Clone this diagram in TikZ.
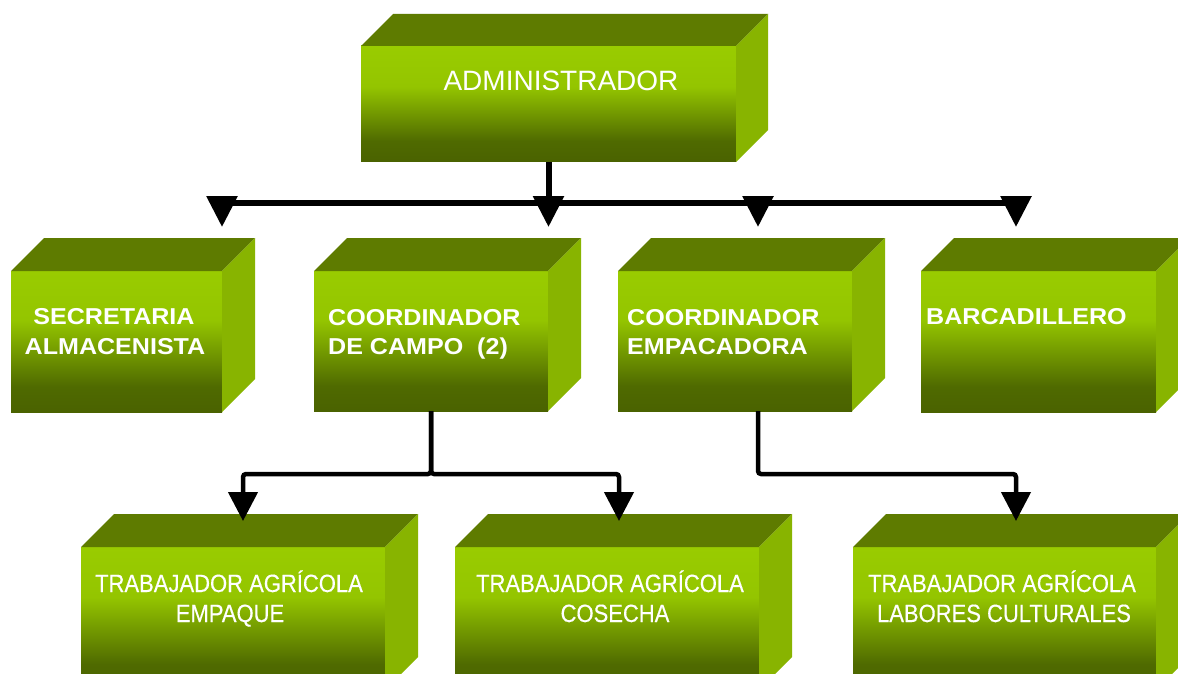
\documentclass[tikz,border=0pt]{standalone}
\usepackage{fontspec}
\setmainfont{Liberation Sans}
\newfontfamily\widefont{Liberation Sans}[FakeStretch=1.09]
\newfontfamily\narrowfont{Liberation Sans}[FakeStretch=0.88,FakeBold=0.4]
\usetikzlibrary{arrows.meta}
\definecolor{topc}{HTML}{5E7B00}
\definecolor{sidec}{HTML}{88B400}
\definecolor{gb}{HTML}{4A6200}
\definecolor{gbb}{HTML}{4F6A00}
\definecolor{gm}{HTML}{94C500}
\definecolor{gt}{HTML}{99CC00}
\pgfdeclareverticalshading{frontgrad}{100bp}{color(0bp)=(gb); color(25bp)=(gb); color(34bp)=(gbb); color(57.5bp)=(gm); color(75bp)=(gt); color(100bp)=(gt)}
\tikzset{
 front/.style={shading=frontgrad, inner sep=0pt, outer sep=0pt, anchor=north west},
 topface/.style={fill=topc},
 sideface/.style={fill=sidec},
 ttl/.style={text=white, inner sep=0pt, anchor=base, font=\fontsize{28}{30}\selectfont},
 midl/.style={text=white, inner sep=0pt, font=\widefont\bfseries\fontsize{23}{26}\selectfont},
 lowl/.style={text=white, inner sep=0pt, anchor=base, font=\narrowfont\fontsize{25}{28}\selectfont},
 ln1/.style={line width=6pt},
 ln2/.style={line width=4.5pt, rounded corners=3pt},
 tipA/.style={-{Triangle[width=30pt,length=31pt]}},
 tipB/.style={-{Triangle[width=29pt,length=29pt]}},
}
\newcommand\gbox[6]{%
 \node[front, minimum width={#4-#2}, minimum height={#5-#3}] (#1) at (#2,#3) {};
 \fill[topface] (#1.north west) -- ++(#6,-#6) -- ([shift={(#6,-#6)}]#1.north east) -- (#1.north east) -- cycle;
 \fill[sideface] (#1.north east) -- ++(#6,-#6) -- ([shift={(#6,-#6)}]#1.south east) -- (#1.south east) -- cycle;
}
\begin{document}
\begin{tikzpicture}[x=1pt,y=-1pt]
\useasboundingbox (0,0) rectangle (1178,674);
\fill[white] (0,0) rectangle (1178,674);
\clip (0,0) rectangle (1178,674);
% boxes
\gbox{admin}{361}{46}{736}{162}{32}
\gbox{sec}{11}{271}{222}{412}{33}
\gbox{campo}{314}{271}{548}{411}{33}
\gbox{empac}{618}{271}{852}{411}{33}
\gbox{barc}{921}{271}{1156}{412}{33}
\gbox{empq}{81}{547}{385}{690}{33}
\gbox{cose}{455}{547}{759}{690}{33}
\gbox{labo}{853}{547}{1156}{690}{33}
% texts
\node[ttl] (tAdmin) at (561,91) {ADMINISTRADOR};
\node[midl, anchor=base] (tS1) at (114,324) {SECRETARIA};
\node[midl, anchor=base] (tS2) at (115,354) {ALMACENISTA};
\node[midl, anchor=base west] (tC1) at (328,325) {COORDINADOR};
\node[midl, anchor=base west] (tC2) at (328,354) {DE CAMPO\ \ (2)};
\node[midl, anchor=base west] (tE1) at (627,325) {COORDINADOR};
\node[midl, anchor=base west] (tE2) at (627,354) {EMPACADORA};
\node[midl, anchor=base west] (tB1) at (926,324) {BARCADILLERO};
\node[lowl] (tP1) at (229,592) {TRABAJADOR AGRÍCOLA};
\node[lowl] (tP2) at (230,622) {EMPAQUE};
\node[lowl] (tK1) at (610,592) {TRABAJADOR AGRÍCOLA};
\node[lowl] (tK2) at (615,622) {COSECHA};
\node[lowl] (tL1) at (1002,592) {TRABAJADOR AGRÍCOLA};
\node[lowl] (tL2) at (1004,622) {LABORES CULTURALES};
% connectors, level 1
\coordinate (hL) at (222,203);
\coordinate (hR) at (1016,203);
\coordinate (hE) at (758,203);
\coordinate (tipS) at (222,227);
\coordinate (tipC) at (admin.south |- tipS);
\coordinate (tipE) at (758,227);
\coordinate (tipB) at (1016,227);
\draw[ln1] (hL) -- (hR);
\draw[ln1, tipA] (admin.south) -- (tipC);
\draw[ln1, tipA] (hL) -- (tipS);
\draw[ln1, tipA] (hE) -- (tipE);
\draw[ln1, tipA] (hR) -- (tipB);
% connectors, level 2
\coordinate (tipP) at (243,521);
\coordinate (tipK) at (619,521);
\coordinate (tipL) at (1016,521);
\draw[ln2, tipB] (campo.south) -- ++(0,63) -| (tipP);
\draw[ln2, tipB] (campo.south) -- ++(0,63) -| (tipK);
\draw[ln2, tipB] ([xshift=23pt]empac.south) -- ++(0,63) -| (tipL);
\end{tikzpicture}
\end{document}
